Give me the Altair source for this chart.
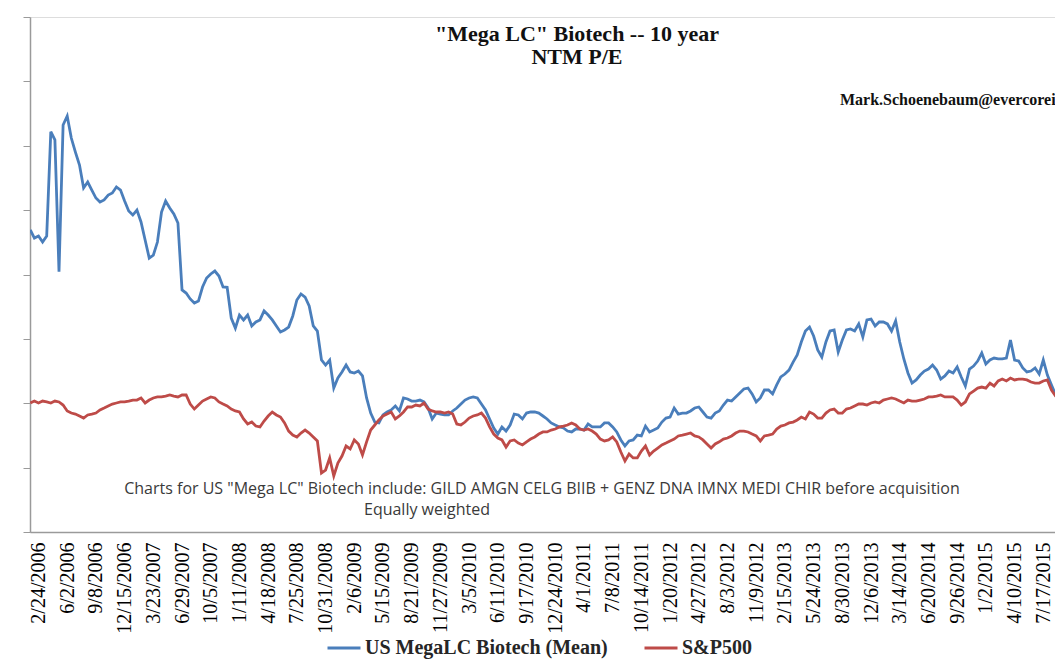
import altair as alt
import pandas as pd

# ---------------- data (biweekly samples) ----------------
series_names = ["US MegaLC Biotech (Mean)", "S&P500"]
series_colors = ["#4A7EBB", "#BE4B48"]

first_date = "2006-01-27"   # first (Friday) observation, sampled every 14 days

biotech_pe = [
    28.46, 27.83, 27.99, 27.52, 27.99, 36.09, 35.45, 25.22, 36.61, 37.31,
    35.60, 34.51, 33.50, 31.72, 32.18, 31.56, 30.94, 30.63, 30.79, 31.17,
    31.33, 31.80, 31.56, 30.71, 29.93, 29.62, 30.01, 29.08, 27.68, 26.28,
    26.51, 27.52, 29.85, 30.71, 30.17, 29.70, 29.00, 23.80, 23.56, 23.10,
    22.79, 22.94, 24.03, 24.73, 25.04, 25.27, 24.88, 24.03, 24.00, 21.62,
    20.84, 21.85, 21.47, 21.85, 21.00, 21.31, 21.47, 22.17, 21.85, 21.47,
    21.00, 20.53, 20.69, 20.92, 21.78, 23.02, 23.49, 23.25, 22.55, 21.00,
    20.61, 18.36, 17.97, 18.36, 16.18, 16.96, 17.43, 17.97, 17.43, 17.35,
    17.50, 17.12, 15.41, 14.24, 13.54, 13.47, 14.09, 14.32, 14.48, 14.79,
    14.40, 15.41, 15.33, 15.17, 15.17, 15.25, 15.10, 14.63, 13.78, 14.24,
    14.16, 14.09, 14.09, 14.40, 14.63, 14.94, 15.25, 15.41, 15.49, 15.41,
    14.94, 14.48, 13.78, 13.08, 12.61, 13.16, 12.84, 13.31, 14.16, 14.09,
    13.78, 14.24, 14.32, 14.32, 14.24, 14.01, 13.78, 13.47, 13.31, 13.16,
    13.08, 12.84, 12.77, 13.00, 13.00, 12.92, 13.39, 13.16, 13.16, 13.16,
    13.47, 13.47, 13.16, 12.77, 12.15, 11.68, 12.07, 12.15, 12.53, 12.46,
    13.23, 12.77, 12.92, 13.08, 13.54, 13.85, 13.93, 14.63, 14.16, 14.24,
    14.24, 14.40, 14.63, 14.71, 14.32, 13.93, 13.85, 14.24, 14.40, 14.86,
    15.25, 15.17, 15.49, 15.80, 16.11, 16.18, 15.72, 15.10, 15.41, 16.03,
    16.03, 15.72, 16.42, 17.04, 17.27, 17.58, 18.20, 18.75, 19.76, 20.61,
    20.92, 20.22, 19.14, 18.59, 19.76, 20.61, 20.69, 18.98, 19.91, 20.69,
    20.77, 20.61, 21.16, 20.15, 21.47, 21.54, 21.00, 21.31, 21.31, 21.16,
    20.61, 21.39, 19.76, 18.44, 17.35, 16.57, 16.81, 17.19, 17.50, 17.66,
    17.97, 17.58, 16.88, 17.12, 17.50, 17.35, 17.82, 17.04, 16.34, 17.66,
    17.89, 18.28, 18.90, 18.05, 18.36, 18.51, 18.44, 18.44, 18.51, 19.91,
    18.36, 18.28, 17.74, 17.43, 17.50, 17.74, 17.27, 18.36, 17.19, 16.42,
    15.64, 15.25,
]

sp500_pe = [
    15.02, 15.17, 15.02, 15.17, 15.10, 15.02, 15.17, 15.10, 14.86, 14.40,
    14.24, 14.16, 14.01, 13.85, 14.09, 14.16, 14.24, 14.48, 14.63, 14.79,
    14.94, 15.02, 15.10, 15.10, 15.17, 15.25, 15.25, 15.41, 15.02, 15.25,
    15.41, 15.49, 15.49, 15.56, 15.64, 15.56, 15.49, 15.64, 15.64, 14.94,
    14.55, 14.86, 15.17, 15.33, 15.49, 15.41, 15.10, 14.94, 14.79, 14.55,
    14.40, 14.32, 13.78, 13.39, 13.54, 13.23, 13.16, 13.62, 14.01, 14.32,
    14.09, 13.93, 13.47, 12.84, 12.53, 12.38, 12.69, 12.92, 12.69, 12.38,
    12.07, 9.58, 9.81, 10.75, 9.35, 10.36, 10.90, 11.68, 11.45, 12.15,
    11.84, 10.98, 12.00, 12.92, 13.31, 13.70, 14.01, 14.16, 14.32, 13.78,
    14.01, 14.32, 14.71, 14.71, 14.86, 14.79, 15.02, 14.55, 14.40, 14.32,
    14.32, 14.24, 14.32, 14.16, 13.39, 13.31, 13.54, 13.85, 14.01, 14.09,
    14.24, 13.85, 13.16, 12.61, 12.30, 12.15, 11.60, 12.07, 12.15, 11.91,
    11.76, 12.00, 12.22, 12.38, 12.61, 12.77, 12.77, 12.92, 13.00, 13.16,
    13.23, 13.31, 13.47, 13.31, 13.00, 12.92, 13.00, 12.84, 12.61, 12.22,
    12.07, 12.15, 12.38, 12.00, 11.21, 10.51, 11.06, 10.75, 10.75, 11.29,
    11.68, 10.98, 11.29, 11.52, 11.76, 11.91, 12.07, 12.22, 12.46, 12.53,
    12.61, 12.69, 12.46, 12.38, 12.15, 11.84, 11.52, 11.84, 12.00, 12.22,
    12.30, 12.46, 12.69, 12.84, 12.84, 12.77, 12.61, 12.46, 12.07, 12.46,
    12.53, 12.61, 13.00, 13.23, 13.31, 13.47, 13.54, 13.70, 13.93, 13.78,
    14.32, 14.16, 13.85, 13.85, 14.24, 14.48, 14.55, 14.24, 14.24, 14.55,
    14.63, 14.79, 14.94, 14.94, 14.86, 15.02, 15.10, 15.02, 15.25, 15.33,
    15.41, 15.33, 15.17, 15.02, 15.25, 15.17, 15.17, 15.25, 15.33, 15.49,
    15.49, 15.56, 15.64, 15.49, 15.49, 15.49, 15.25, 14.86, 15.10, 15.72,
    15.95, 16.18, 16.26, 16.18, 16.57, 16.34, 16.73, 16.88, 16.73, 16.96,
    16.81, 16.88, 16.88, 16.81, 16.65, 16.57, 16.57, 16.73, 16.81, 16.03,
    15.56, 15.49,
]

x_tick_labels = [
    "2/24/2006", "6/2/2006", "9/8/2006", "12/15/2006", "3/23/2007", "6/29/2007",
    "10/5/2007", "1/11/2008", "4/18/2008", "7/25/2008", "10/31/2008", "2/6/2009",
    "5/15/2009", "8/21/2009", "11/27/2009", "3/5/2010", "6/11/2010", "9/17/2010",
    "12/24/2010", "4/1/2011", "7/8/2011", "10/14/2011", "1/20/2012", "4/27/2012",
    "8/3/2012", "11/9/2012", "2/15/2013", "5/24/2013", "8/30/2013", "12/6/2013",
    "3/14/2014", "6/20/2014", "9/26/2014", "1/2/2015", "4/10/2015", "7/17/2015",
]
y_tick_values = [5, 10, 15, 20, 25, 30, 35, 40, 45]

title_lines = ['"Mega LC" Biotech -- 10 year', "NTM P/E"]
author_note = "Mark.Schoenebaum@evercorei"
footnote_lines = [
    'Charts for US "Mega LC" Biotech include: GILD AMGN CELG BIIB + GENZ DNA IMNX MEDI CHIR before acquisition',
    "Equally weighted",
]

# ---------------- build table ----------------
n = len(biotech_pe)
dates = pd.date_range(first_date, periods=n, freq="14D").strftime("%Y-%m-%d").tolist()
df = pd.DataFrame({
    "date": dates + dates,
    "pe": biotech_pe + sp500_pe,
    "series": [series_names[0]] * n + [series_names[1]] * n,
})


def to_dt(s):
    m, d, y = (int(v) for v in s.split("/"))
    return alt.DateTime(year=y, month=m, date=d, utc=True)


x_values = [to_dt(s) for s in x_tick_labels]

W, H = 1025, 515

lines = alt.Chart(df).mark_line(strokeWidth=2.8, clip=True, interpolate="linear").encode(
    x=alt.X(
        "date:T",
        scale=alt.Scale(
            type="utc",
            domain=[alt.DateTime(year=2006, month=1, date=26, utc=True),
                    alt.DateTime(year=2015, month=8, date=26, utc=True)],
        ),
        axis=alt.Axis(
            title=None, values=x_values, ticks=False, grid=False,
            labelExpr="utcFormat(datum.value, '%-m/%-d/%Y')",
            labelAngle=270, labelFont="Liberation Serif", labelFontSize=20,
            labelColor="#000000", labelPadding=10, labelOverlap=False,
            labelFlush=False, labelBound=False,
            domainColor="#9a9a9a", domainWidth=1.5,
        ),
    ),
    y=alt.Y(
        "pe:Q",
        scale=alt.Scale(domain=[5, 45], nice=False, zero=False),
        axis=alt.Axis(
            title=None, values=y_tick_values, labels=False, grid=False,
            tickSize=7, tickColor="#9a9a9a", domainColor="#9a9a9a", domainWidth=1.5,
        ),
    ),
    color=alt.Color(
        "series:N",
        scale=alt.Scale(domain=series_names, range=series_colors),
        sort=series_names,
        legend=alt.Legend(
            title=None, orient="none", legendX=296, legendY=613,
            direction="horizontal", symbolType="stroke", symbolSize=1089,
            symbolStrokeWidth=3, labelFont="Liberation Serif", labelFontSize=20,
            labelFontWeight="bold", labelColor="#262626", columnPadding=30,
            labelOffset=3, labelLimit=500,
        ),
    ),
    order=alt.Order("series:N", sort="descending"),
)


def text_layer(txt, x, y, **kw):
    return alt.Chart(pd.DataFrame({"t": [txt]})).mark_text(**kw).encode(
        text="t:N", x=alt.value(x), y=alt.value(y)
    )


title1 = text_layer(title_lines[0], 547, 24, font="Liberation Serif", fontSize=22,
                    fontWeight="bold", align="center", baseline="alphabetic", color="#111111")
title2 = text_layer(title_lines[1], 547, 47, font="Liberation Serif", fontSize=22,
                    fontWeight="bold", align="center", baseline="alphabetic", color="#111111")
author = text_layer(author_note, 810, 88, font="Liberation Serif", fontSize=16,
                    fontWeight="bold", align="left", baseline="alphabetic", color="#111111")
foot1 = text_layer(footnote_lines[0], 512, 477, font="Open Sans", fontSize=16,
                   align="center", baseline="alphabetic", color="#3a3a3a")
foot2 = text_layer(footnote_lines[1], 397, 498, font="Open Sans", fontSize=16,
                   align="center", baseline="alphabetic", color="#3a3a3a")

chart = alt.layer(lines, title1, title2, author, foot1, foot2).properties(
    width=W, height=H,
    autosize=alt.AutoSizeParams(type="none"),
    padding={"left": 22, "top": 9, "right": 0, "bottom": 133},
).configure_view(stroke=None).configure(background="white")

chart.save("out.html", embed_options={"renderer": "svg", "actions": False})
